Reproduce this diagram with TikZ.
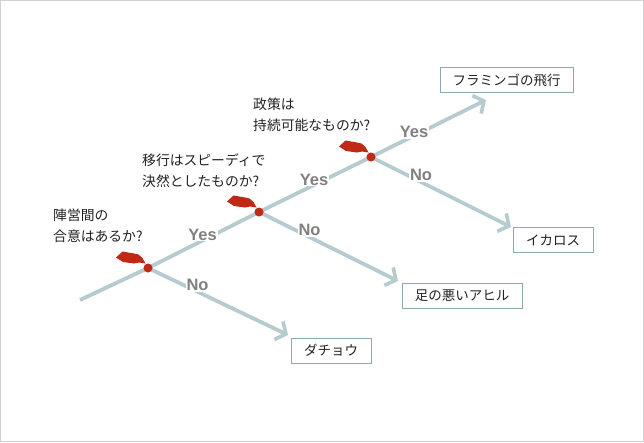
\documentclass[tikz,border=0pt]{standalone}
\usepackage{fontspec}
\setmainfont{Liberation Sans}
\newfontfamily\jpfont{Noto Sans CJK JP}
\usetikzlibrary{arrows.meta}
\definecolor{branch}{HTML}{B5CBCF}
\definecolor{boxline}{HTML}{8EABB0}
\definecolor{dotred}{HTML}{BE2A15}
\definecolor{lblgray}{HTML}{808080}
\definecolor{txt}{HTML}{222222}
\tikzset{
  branchline/.style={draw=branch, line width=3.8pt},
  branchArrow/.style={branchline, -{Straight Barb[length=8pt,width=20pt,line width=3.6pt]}},
  resultbox/.style={draw=boxline, line width=1pt, fill=white, minimum height=25pt, inner xsep=0pt, font=\jpfont\fontsize{13.5}{16}\selectfont, text=txt},
  question/.style={anchor=west, align=left, inner sep=0pt, font=\jpfont\fontsize{13.8}{21}\selectfont, text=txt},
  yn/.style={font=\bfseries\fontsize{16.5}{16.5}\selectfont, text=lblgray, fill=white, inner sep=1pt},
  decdot/.style={circle, fill=dotred, inner sep=0pt, minimum size=9pt},
  marker/.style={fill=dotred, draw=none}
}
\begin{document}
\begin{tikzpicture}[x=1pt,y=-1pt]
\useasboundingbox (0,0) rectangle (644,442);
\draw[draw=black!18, line width=1pt] (0.5,0.5) rectangle (643.5,441.5);
% coordinates
\coordinate (start) at (80,300);
\coordinate (n1) at (148,268);
\coordinate (n2) at (259,212);
\coordinate (n3) at (371,157);
\coordinate (yesend) at (486,100);
\coordinate (no1end) at (288,335);
\coordinate (no2end) at (398,281);
\coordinate (no3end) at (511,227);
% lines
\draw[branchline] (start) -- (n1) -- (n2) -- (n3);
\draw[branchArrow] (n3) -- (yesend);
\draw[branchArrow] (n1) -- (no1end);
\draw[branchArrow] (n2) -- (no2end);
\draw[branchArrow] (n3) -- (no3end);
% labels
\node[yn] (y1) at (202.5,234.5) {Yes};
\node[yn] (o1) at (197.5,285) {No};
\node[yn] (y2) at (314,179.5) {Yes};
\node[yn] (o2) at (309.5,230) {No};
\node[yn] (y3) at (414,132) {Yes};
\node[yn] (o3) at (421,175) {No};
% dots
\node[decdot] (d1) at (n1) {};
\node[decdot] (d2) at (n2) {};
\node[decdot] (d3) at (n3) {};
% markers
\foreach \c in {n1,n2,n3}{
  \fill[marker,shift={(\c)}] (-32,-10.5) -- (-25.5,-16.5) -- (-14,-14.5) -- (-9.5,-13.5) -- (-5.5,-10) -- (-2.5,-4.5) -- (-9,-5.5) -- (-14,-4.5) -- (-25,-6) -- cycle;
}
% results
\node[resultbox, minimum width=133pt] (flamingo) at (506.5,80) {フラミンゴの飛行};
\node[resultbox, minimum width=80pt] (icarus) at (553,240) {イカロス};
\node[resultbox, minimum width=120pt] (duck) at (462,295.5) {足の悪いアヒル};
\node[resultbox, minimum width=80pt] (ostrich) at (331,350.5) {ダチョウ};
% questions
\node[question] (q1) at (53,225.5) {陣営間の\\合意はあるか?};
\node[question] (q2) at (142,170.5) {移行はスピーディで\\決然としたものか?};
\node[question] (q3) at (253,114.5) {政策は\\持続可能なものか?};
\end{tikzpicture}
\end{document}
